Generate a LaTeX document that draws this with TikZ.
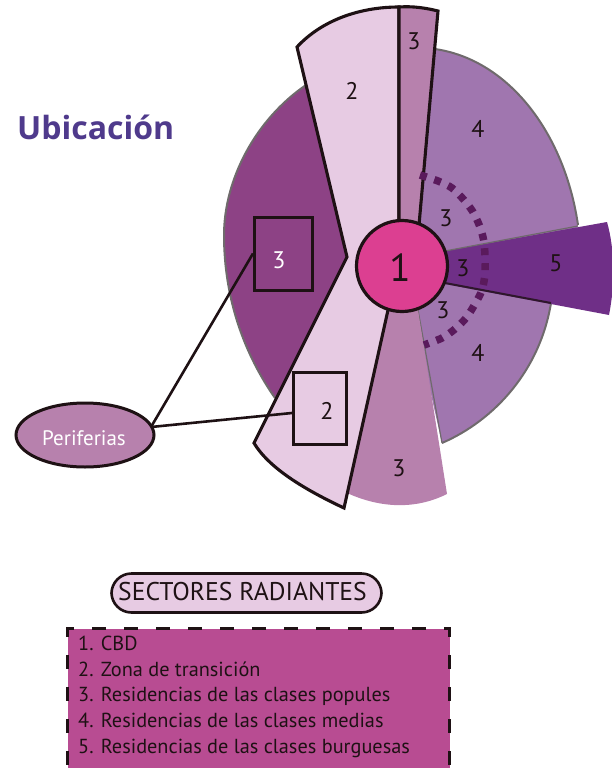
\documentclass[tikz,border=0pt]{standalone}
\usepackage{fontspec}
\usetikzlibrary{shapes.geometric}
\setmainfont{PT Sans}
\newfontfamily\titlefont{Open Sans}
\definecolor{ink}{HTML}{1E1114}
\definecolor{edgegray}{HTML}{6F6A6C}
\definecolor{lightpink}{HTML}{E7CBE3}
\definecolor{midpink}{HTML}{B781AD}
\definecolor{darkplum}{HTML}{8D4285}
\definecolor{lilac}{HTML}{A076AF}
\definecolor{royal}{HTML}{6F2F87}
\definecolor{hot}{HTML}{DC3F91}
\definecolor{dots}{HTML}{5A1A5C}
\definecolor{legendfill}{HTML}{B84C92}
\definecolor{titlecol}{HTML}{4F3A8C}
\tikzset{
  heavy/.style={draw=ink,line width=3.1pt,line join=miter},
  soft/.style={draw=edgegray,line width=2pt},
  num/.style={font=\fontsize{24}{26}\selectfont,text=ink,inner sep=0pt},
  link/.style={draw=ink,line width=2.6pt},
  framebox/.style={draw=ink,line width=3pt,fill=none,inner sep=0pt}
}
\begin{document}
\begin{tikzpicture}[x=1pt,y=-1pt]
\useasboundingbox (0,0) rectangle (612,768);
\clip (0,0) rectangle (612,768);
% left dark sector
\fill[darkplum] (306,85) .. controls (255,120) and (224,180) .. (224,235)
  .. controls (224,300) and (245,355) .. (275,398) -- (400,266) -- cycle;
\draw[soft] (306,85) .. controls (255,120) and (224,180) .. (224,235)
  .. controls (224,300) and (245,355) .. (275,398);
% sector 4
\fill[lilac] (435,49) .. controls (510,60) and (565,135) .. (578,225) -- (560,260) -- (551,303)
  .. controls (540,370) and (495,420) .. (442,443) -- (402,266) -- cycle;
\draw[soft] (435,49) .. controls (510,60) and (565,135) .. (578,225);
\draw[soft] (551,303) .. controls (540,370) and (495,420) .. (442,443);
\draw[draw=edgegray,line width=1.2pt] (442,443) -- (418,310);
% sector 3 bottom
\fill[midpink] (388,310) -- (347,493) .. controls (380,508) and (415,510) .. (447,494) -- (418,310) -- cycle;
% sector 2
\fill[lightpink] (297,47) .. controls (322,20) and (360,7) .. (399,7) -- (399,266) -- (388,310) -- (344,508)
  .. controls (310,492) and (270,470) .. (254,443) -- (347,257) -- cycle;
\draw[heavy] (399,222) -- (399,7) .. controls (360,7) and (322,20) .. (297,47) -- (347,257) -- (254,443)
  .. controls (270,470) and (310,492) .. (344,508) -- (388,310);
% sector 3 top
\fill[midpink] (399,7) .. controls (413,6) and (426,8) .. (438,11) -- (420,225) -- (399,225) -- cycle;
\draw[heavy] (399,222) -- (399,7) .. controls (413,6) and (426,8) .. (438,11) -- (419,225);
% sector 5
\fill[royal] (445,251) -- (607,222) .. controls (615,250) and (615,285) .. (609,315) -- (445,284) -- cycle;
\draw[draw=edgegray,line width=1.2pt] (445,251) -- (578,226);
\draw[draw=ink!80!royal,line width=2pt] (445,283) -- (551,303);
% dotted ring
\draw[dots,line width=7.5pt,dash pattern=on 7pt off 8pt] plot[smooth] coordinates
  {(420,175) (438,181) (452,188) (464,200) (473,212) (480,227) (484,242) (485,258) (485,274) (482,290) (475,304) (466,318) (455,329) (442,338) (424,345)};
% CBD
\node[circle,draw=ink,line width=3.2pt,fill=hot,minimum size=91pt,inner sep=0pt] (cbd) at (402,266) {};
\node[font=\fontsize{39}{41}\selectfont,text=ink,inner sep=0pt] (cbdn) at (400,268) {1};
% frames
\node[framebox,minimum width=58pt,minimum height=73pt] (boxthree) at (283.5,253.5) {};
\node[framebox,minimum width=53pt,minimum height=72pt] (boxtwo) at (320,408) {};
% Periferias
\node[ellipse,draw=ink,line width=3pt,fill=midpink,minimum width=138pt,minimum height=64pt,inner sep=0pt] (peri) at (85,435) {};
\node[inner sep=0pt,text=white,font=\fontsize{21}{23}\selectfont] (perilabel) at (84,438) {Periferias};
\coordinate (perijoin) at (151,427);
\draw[link] (perijoin) -- (boxthree.west);
\draw[link] (perijoin) -- ([yshift=-5pt]boxtwo.west);
% numbers
\node[num] (na) at (414,41) {3};
\node[num] (nb) at (352,91) {2};
\node[num] (nc) at (478,129) {4};
\node[num] (nd) at (446,218) {3};
\node[num] (ne) at (463,268) {3};
\node[num] (nf) at (556,263) {5};
\node[num] (ng) at (443,310) {3};
\node[num] (nh) at (478,353) {4};
\node[num] (ni) at (399,468) {3};
\node[num] (nj) at (327,411) {2};
\node[num,text=white] (nk) at (279,260) {3};
% title
\node[font=\titlefont\bfseries\fontsize{32}{34}\selectfont,text=titlecol,anchor=west,inner sep=0pt] (title) at (17,127) {Ubicación};
% legend
\node[draw=ink,line width=2.6pt,fill=lightpink,rounded corners=20pt,minimum width=270pt,minimum height=39pt,inner sep=0pt] (head) at (246.5,593) {};
\node[inner sep=0pt,font=\fontsize{25.6}{27}\selectfont,text=ink] (headlabel) at (242.5,592) {SECTORES RADIANTES};
\node[draw=ink,fill=legendfill,line width=3pt,dash pattern=on 14pt off 18pt,minimum width=382pt,minimum height=170pt,inner sep=0pt,anchor=north west] (legendbox) at (66,627) {};
\node[anchor=north west,inner sep=0pt,align=left,text=ink,font=\fontsize{20.3}{25.6}\selectfont] (legendtext) at (78,636) {1. CBD\\2. Zona de transición\\3. Residencias de las clases popules\\4. Residencias de las clases medias\\5. Residencias de las clases burguesas};
\end{tikzpicture}
\end{document}
